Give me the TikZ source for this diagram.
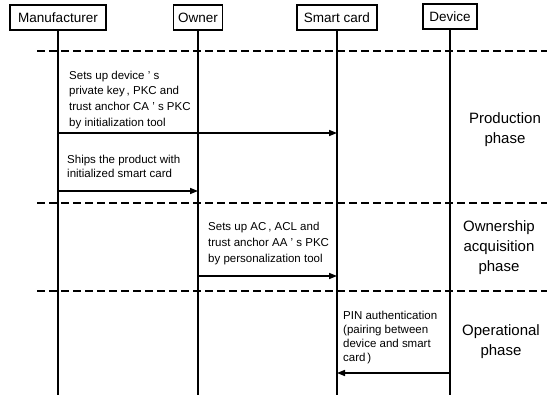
\documentclass[tikz,border=0pt]{standalone}
\usepackage{fontspec}
\setmainfont{Liberation Sans}
\usetikzlibrary{arrows.meta}
\begin{document}
\begin{tikzpicture}[x=1pt,y=-1pt,
  actor/.style={draw, line width=1.2pt, minimum height=25pt, inner sep=0pt,
    font=\fontsize{13.5}{16}\selectfont},
  life/.style={line width=1.5pt},
  phaseline/.style={line width=2pt, dash pattern=on 8pt off 4pt},
  msg/.style={line width=1.5pt, -{Triangle[length=8pt,width=6pt]}},
  note/.style={anchor=north west, align=left, inner sep=0pt,
    font=\fontsize{11.5}{15.7}\selectfont},
  tightnote/.style={note, font=\fontsize{11.5}{14}\selectfont},
  phase/.style={align=center, inner sep=0pt, font=\fontsize{15}{20}\selectfont}]
\useasboundingbox (0,0) rectangle (550,395);

% participants
\node[actor, minimum width=96pt] (man) at (58,17.5) {Manufacturer};
\node[actor, minimum width=49pt] (own) at (198,17.5) {Owner};
\node[actor, minimum width=80pt] (sc)  at (337,17.5) {Smart card};
\node[actor, minimum width=54pt] (dev) at (450,16.5) {Device};

% lifelines
\coordinate (bottom) at (0,395);
\foreach \p in {man,own,sc,dev}
  \draw[life] (\p.south) -- (\p.south |- bottom);

% phase separators
\foreach \i/\y in {1/51,2/203,3/291} {
  \coordinate (sepL\i) at (37,\y);
  \coordinate (sepR\i) at (547,\y);
  \draw[phaseline] (sepL\i) -- (sepR\i);
}

% messages
\coordinate (r1) at (0,133);
\coordinate (r2) at (0,191);
\coordinate (r3) at (0,276);
\coordinate (r4) at (0,373);
\draw[msg] (man |- r1) -- (sc |- r1);
\draw[msg] (man |- r2) -- (own |- r2);
\draw[msg] (own |- r3) -- (sc |- r3);
\draw[msg] (dev |- r4) -- (sc |- r4);

% message labels
\node[note] (t1) at (69,70.5) {Sets up device ’ s\\private key\,, PKC and\\trust anchor CA ’ s PKC\\by initialization tool};
\node[tightnote] (t2) at (67,155) {Ships the product with\\initialized smart card};
\node[note] (t3) at (208,222.3) {Sets up AC\,, ACL and\\trust anchor AA ’ s PKC\\by personalization tool};
\node[tightnote] (t4) at (343,310.6) {PIN authentication\\(pairing between\\device and smart\\card\,)};

% phase names
\node[phase] (p1) at (505,130) {Production\\phase};
\node[phase] (p2) at (499,248) {Ownership\\acquisition\\phase};
\node[phase] (p3) at (501,342) {Operational\\phase};
\end{tikzpicture}
\end{document}
